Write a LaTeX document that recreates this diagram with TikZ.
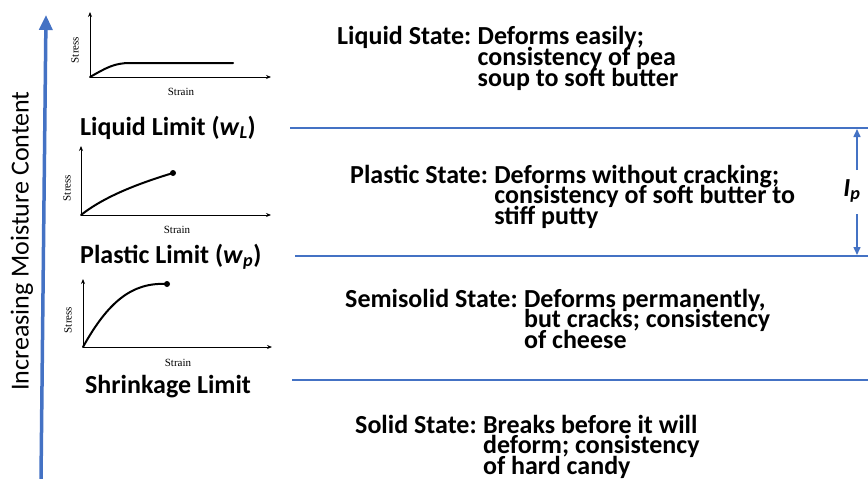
\documentclass[tikz,border=0pt]{standalone}
\usepackage{fontspec}
\setmainfont{Carlito}
\newfontfamily\axisfont{Liberation Serif}
\usetikzlibrary{arrows.meta,calc}
\definecolor{ofblue}{RGB}{68,114,196}
\begin{document}
\begin{tikzpicture}[x=1pt,y=-1pt,
  lbl/.style={font=\fontsize{26}{20.5}\selectfont\bfseries, inner sep=0pt, anchor=base west},
  axlbl/.style={font=\axisfont\fontsize{11}{12}\selectfont, inner sep=0pt},
  axis/.style={line width=0.8pt, -{Stealth[length=5pt,width=4pt]}},
  curve/.style={line width=2pt, line cap=round},
  dot/.style={circle, fill=black, inner sep=0pt, minimum size=6pt},
  level/.style={draw=ofblue, line width=1.8pt},
  iparrow/.style={draw=ofblue, line width=1.5pt, -{Triangle[length=8pt,width=7pt]}}
]
\useasboundingbox (0,0) rectangle (868,479);

% main vertical arrow and label
\coordinate (mb) at (41,479);
\coordinate (mt) at (46,15);
\draw[draw=ofblue, line width=3.5pt, -{Triangle[length=15pt,width=13pt]}] (mb) -- (mt);
\node[rotate=90, anchor=base, inner sep=0pt, font=\fontsize{26}{30}\selectfont] (vlab) at (28.5,241) {Increasing Moisture Content};

% graph 1
\coordinate (g1o) at (90,77);
\coordinate (g1y) at (90,12);
\coordinate (g1x) at (271,77);
\draw[axis] (g1o) -- (g1y);
\draw[axis] (g1o) -- (g1x);
\coordinate (g1e) at (233,63);
\draw[curve] (g1o) .. controls (106,68) and (114,63) .. (130,63) -- (g1e);
\node[axlbl, rotate=90] (g1s) at (75,50) {Stress};
\node[axlbl] (g1t) at (181,92) {Strain};
\node[lbl] (ll) at (80,135) {Liquid Limit (\textit{w}\textsubscript{\textit{L}})};

% graph 2
\coordinate (g2o) at (81,215);
\coordinate (g2y) at (81,146);
\coordinate (g2x) at (271,215);
\draw[axis] (g2o) -- (g2y);
\draw[axis] (g2o) -- (g2x);
\node[dot] (g2d) at (173,173) {};
\draw[curve] (g2o) .. controls (105,196) and (140,183) .. (g2d.center);
\node[axlbl, rotate=90] (g2s) at (67,188) {Stress};
\node[axlbl] (g2t) at (177,230) {Strain};
\node[lbl] (pl) at (80,263) {Plastic Limit (\textit{w}\textsubscript{\textit{p}})};

% graph 3
\coordinate (g3o) at (83,347);
\coordinate (g3y) at (83,279);
\coordinate (g3x) at (272,347);
\draw[axis] (g3o) -- (g3y);
\draw[axis] (g3o) -- (g3x);
\node[dot] (g3d) at (167,284) {};
\draw[curve] (g3o) .. controls (108,302) and (132,282) .. (g3d.center);
\node[axlbl, rotate=90] (g3s) at (68,320) {Stress};
\node[axlbl] (g3t) at (178,363) {Strain};
\node[lbl] (sl) at (85,393) {Shrinkage Limit};

% level lines
\coordinate (l1a) at (290,128); \coordinate (l1b) at (868,128);
\coordinate (l2a) at (295,256); \coordinate (l2b) at (868,256);
\coordinate (l3a) at (292,380); \coordinate (l3b) at (868,380);
\draw[level] (l1a) -- (l1b);
\draw[level] (l2a) -- (l2b);
\draw[level] (l3a) -- (l3b);

% Ip
\node[font=\fontsize{26}{20.5}\selectfont\bfseries\itshape, inner sep=0pt] (ip) at (852,191) {I\textsubscript{p}};
\coordinate (ipa) at (857,170); \coordinate (ipt) at (857,129);
\coordinate (ipb) at (857,214); \coordinate (ipd) at (857,255);
\draw[iparrow] (ipa) -- (ipt);
\draw[iparrow] (ipb) -- (ipd);

% Liquid state
\node[lbl] (lqs) at (337,45) {Liquid State:};
\node[lbl] (lq1) at ($(lqs.base east)+(6,0)$) {Deforms easily;};
\node[lbl] (lq2) at ($(lq1.base west)+(0,20.5)$) {consistency of pea};
\node[lbl] (lq3) at ($(lq2.base west)+(0,20.5)$) {soup to soft butter};

% Plastic state
\node[lbl] (pss) at (350,183) {Plastic State:};
\node[lbl] (ps1) at ($(pss.base east)+(6,0)$) {Deforms without cracking;};
\node[lbl] (ps2) at ($(ps1.base west)+(0,20.5)$) {consistency of soft butter to};
\node[lbl] (ps3) at ($(ps2.base west)+(0,20.5)$) {stiff putty};

% Semisolid state
\node[lbl] (sss) at (345,307) {Semisolid State:};
\node[lbl] (ss1) at ($(sss.base east)+(6,0)$) {Deforms permanently,};
\node[lbl] (ss2) at ($(ss1.base west)+(0,20.5)$) {but cracks; consistency};
\node[lbl] (ss3) at ($(ss2.base west)+(0,20.5)$) {of cheese};

% Solid state
\node[lbl] (sos) at (355,433) {Solid State:};
\node[lbl] (so1) at ($(sos.base east)+(6,0)$) {Breaks before it will};
\node[lbl] (so2) at ($(so1.base west)+(0,20.5)$) {deform; consistency};
\node[lbl] (so3) at ($(so2.base west)+(0,20.5)$) {of hard candy};
\end{tikzpicture}
\end{document}
